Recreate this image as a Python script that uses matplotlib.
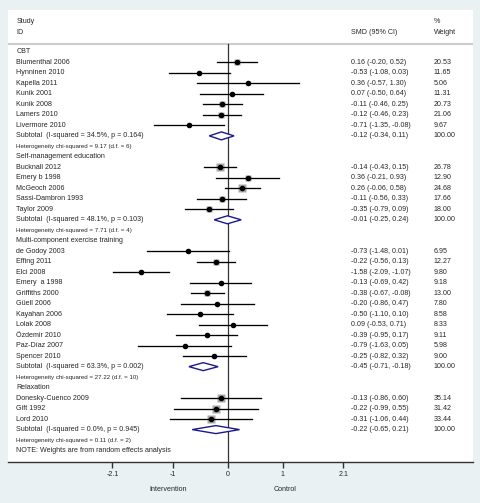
import numpy as np
import matplotlib
matplotlib.use('Agg')
import matplotlib.pyplot as plt
from matplotlib.patches import Polygon

plt.rcParams['font.family'] = ['Liberation Sans', 'DejaVu Sans']

group_names = ['CBT', 'Self-management education',
               'Multi-component exercise training', 'Relaxation']
study_names = ['Blumenthal 2006', 'Hynninen 2010', 'Kapella 2011', 'Kunik 2001',
               'Kunik 2008', 'Lamers 2010', 'Livermore 2010',
               'Bucknall 2012', 'Emery b 1998', 'McGeoch 2006', 'Sassi-Dambron 1993',
               'Taylor 2009',
               'de Godoy 2003', 'Effing 2011', 'Elci 2008', 'Emery  a 1998',
               'Griffiths 2000', 'Güell 2006', 'Kayahan 2006', 'Lolak 2008',
               'Özdemir 2010', 'Paz-Díaz 2007', 'Spencer 2010',
               'Donesky-Cuenco 2009', 'Gift 1992', 'Lord 2010']
study_group = [0] * 7 + [1] * 5 + [2] * 11 + [3] * 3
smd = [0.16, -0.53, 0.36, 0.07, -0.11, -0.12, -0.71,
       -0.14, 0.36, 0.26, -0.11, -0.35,
       -0.73, -0.22, -1.58, -0.13, -0.38, -0.20, -0.50, 0.09, -0.39, -0.79, -0.25,
       -0.13, -0.22, -0.31]
ci_lo = [-0.20, -1.08, -0.57, -0.50, -0.46, -0.46, -1.35,
         -0.43, -0.21, -0.06, -0.56, -0.79,
         -1.48, -0.56, -2.09, -0.69, -0.67, -0.86, -1.10, -0.53, -0.95, -1.63, -0.82,
         -0.86, -0.99, -1.06]
ci_hi = [0.52, 0.03, 1.30, 0.64, 0.25, 0.23, -0.08,
         0.15, 0.93, 0.58, 0.33, 0.09,
         0.01, 0.13, -1.07, 0.42, -0.08, 0.47, 0.10, 0.71, 0.17, 0.05, 0.32,
         0.60, 0.55, 0.44]
weight = [20.53, 11.65, 5.06, 11.31, 20.73, 21.06, 9.67,
          26.78, 12.90, 24.68, 17.66, 18.00,
          6.95, 12.27, 9.80, 9.18, 13.00, 7.80, 8.58, 8.33, 9.11, 5.98, 9.00,
          35.14, 31.42, 33.44]
sub_smd = [-0.12, -0.01, -0.45, -0.22]
sub_lo = [-0.34, -0.25, -0.71, -0.65]
sub_hi = [0.11, 0.24, -0.18, 0.21]
i_squared = [34.5, 48.1, 63.3, 0.0]
p_het = [0.164, 0.103, 0.002, 0.945]
chi_sq = [9.17, 7.71, 27.22, 0.11]
dof = [6, 4, 10, 2]
xticks = [-2.1, -1, 0, 1, 2.1]

txt = '#262626'
fs = 5.15
fs_small = 4.4
x_name, x_ci, x_wt = -3.85, 2.24, 3.74

fig = plt.figure(figsize=(4.8, 5.03), dpi=100, facecolor='#eaf1f3')
ax = fig.add_axes([8 / 480, (503 - 461.7) / 503, 464.7 / 480, 451.7 / 503])
ax.set_facecolor('white')
ax.set_xlim(-4.0, 4.45)
ax.set_ylim(39.06, -4.0)

row = 0
for g, gname in enumerate(group_names):
    ax.text(x_name, row, gname, fontsize=fs, color=txt, va='center')
    row += 1
    for i in [k for k, sg in enumerate(study_group) if sg == g]:
        # box area follows the study weight
        box = 8.5 * np.sqrt(weight[i] / 35.0) * 0.72
        ax.plot(smd[i], row, marker='s', ms=box, color='#a8a8a8', mec='none', zorder=2)
        ax.plot([ci_lo[i], ci_hi[i]], [row, row], color='black', lw=0.95, zorder=3)
        ax.plot(smd[i], row, marker='o', ms=3.0, color='black', zorder=4)
        ax.text(x_name, row, study_names[i], fontsize=fs, color=txt, va='center')
        ax.text(x_ci, row, f'{smd[i]:.2f} ({ci_lo[i]:.2f}, {ci_hi[i]:.2f})',
                fontsize=fs, color=txt, va='center')
        ax.text(x_wt, row, f'{weight[i]:.2f}', fontsize=fs, color=txt, va='center')
        row += 1
    h = 0.38
    ax.add_patch(Polygon([[sub_lo[g], row], [sub_smd[g], row - h], [sub_hi[g], row],
                          [sub_smd[g], row + h]], closed=True, fc='white',
                         ec='#1a1a8c', lw=1.0, zorder=4))
    ax.text(x_name, row, f'Subtotal  (I-squared = {i_squared[g]:.1f}%, p = {p_het[g]:.3f})',
            fontsize=fs, color=txt, va='center')
    ax.text(x_ci, row, f'{sub_smd[g]:.2f} ({sub_lo[g]:.2f}, {sub_hi[g]:.2f})',
            fontsize=fs, color=txt, va='center')
    ax.text(x_wt, row, '100.00', fontsize=fs, color=txt, va='center')
    row += 1
    ax.text(x_name, row, f'Heterogeneity chi-squared = {chi_sq[g]:.2f} (d.f. = {dof[g]})',
            fontsize=fs_small, color=txt, va='center')
    row += 1
ax.text(x_name, row, 'NOTE: Weights are from random effects analysis',
        fontsize=fs, color=txt, va='center')

# header
ax.text(x_name, -2.86, 'Study', fontsize=fs, color=txt, va='center')
ax.text(x_name, -1.81, 'ID', fontsize=fs, color=txt, va='center')
ax.text(x_ci, -1.81, 'SMD (95% CI)', fontsize=fs, color=txt, va='center')
ax.text(x_wt, -2.86, '%', fontsize=fs, color=txt, va='center')
ax.text(x_wt, -1.81, 'Weight', fontsize=fs, color=txt, va='center')
ax.axhline(-0.73, color='#cccccc', lw=1.5, zorder=1)
ax.plot([0, 0], [-0.73, 39.06], color='#333333', lw=0.9, zorder=1)

for s in ['top', 'left', 'right']:
    ax.spines[s].set_visible(False)
ax.spines['bottom'].set_color('#333333')
ax.spines['bottom'].set_linewidth(1.0)
ax.set_yticks([])
ax.set_xticks(xticks)
ax.set_xticklabels(['-2.1', '-1', '0', '1', '2.1'])
ax.tick_params(axis='x', length=4, width=1.0, color='#333333', labelsize=fs,
               labelcolor=txt, pad=3)
ax.text(-1.09, 41.75, 'Intervention', fontsize=fs, color=txt, ha='center', va='center',
        clip_on=False)
ax.text(1.04, 41.75, 'Control', fontsize=fs, color=txt, ha='center', va='center',
        clip_on=False)

fig.savefig('out.png', dpi=100, facecolor=fig.get_facecolor())
